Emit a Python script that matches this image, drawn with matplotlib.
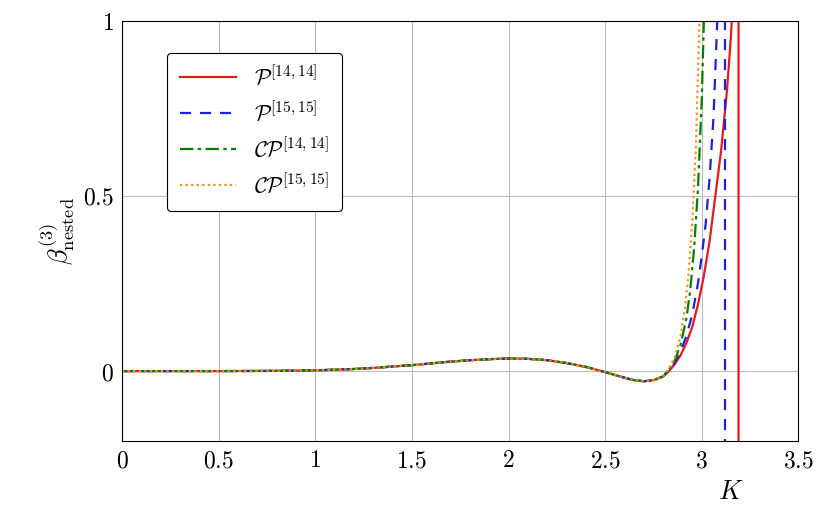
import numpy as np
import matplotlib.pyplot as plt

plt.rcParams['mathtext.fontset'] = 'cm'
plt.rcParams['font.family'] = 'serif'
plt.rcParams['font.serif'] = ['DejaVu Serif']

# shared low-K part of all approximants
k_base = [0, 0.25, 0.5, 0.75, 1.0, 1.1, 1.2, 1.3, 1.4, 1.5, 1.6, 1.7, 1.8, 1.9, 2.0,
          2.1, 2.2, 2.3, 2.4, 2.5, 2.55, 2.6, 2.65, 2.7, 2.75, 2.8]
b_base = [0, 0, 0, 0.0005, 0.002, 0.004, 0.006, 0.009, 0.013, 0.017, 0.022, 0.027,
          0.031, 0.034, 0.036, 0.035, 0.031, 0.023, 0.012, -0.003, -0.011, -0.019,
          -0.026, -0.029, -0.026, -0.015]

# tails (pole shown as jump from +big to -big)
k_p14 = [2.83, 2.86, 2.89, 2.92, 2.95, 2.98, 3.01, 3.04, 3.07, 3.1, 3.13, 3.15, 3.17,
         3.189, 3.191, 3.25]
b_p14 = [0.0, 0.02, 0.045, 0.08, 0.125, 0.19, 0.27, 0.37, 0.5, 0.63, 0.8, 0.95, 1.15,
         10, -10, -10]
k_p15 = [2.83, 2.86, 2.89, 2.92, 2.95, 2.98, 3.0, 3.02, 3.04, 3.06, 3.08, 3.119, 3.121, 3.2]
b_p15 = [0.002, 0.024, 0.055, 0.1, 0.16, 0.25, 0.33, 0.42, 0.55, 0.72, 1.0, 10, -10, -10]
k_cp14 = [2.83, 2.86, 2.89, 2.92, 2.94, 2.96, 2.98, 3.0, 3.02]
b_cp14 = [0.005, 0.03, 0.075, 0.15, 0.23, 0.35, 0.52, 0.78, 1.2]
k_cp15 = [2.83, 2.86, 2.89, 2.91, 2.93, 2.95, 2.97, 2.99]
b_cp15 = [0.008, 0.04, 0.1, 0.17, 0.27, 0.42, 0.65, 1.05]

fig, ax = plt.subplots(figsize=(8.3, 5.19), dpi=100)
fig.subplots_adjust(left=0.147, right=0.962, top=0.96, bottom=0.15)

ax.plot(k_base + k_p14, b_base + b_p14, color='#e41a1c', lw=1.6, label=r'$\mathcal{P}^{[14,14]}$')
ax.plot(k_base + k_p15, b_base + b_p15, color='#1f1fe0', lw=1.6, ls=(0, (5, 4)), label=r'$\mathcal{P}^{[15,15]}$')
ax.plot(k_base + k_cp14, b_base + b_cp14, color='#008000', lw=1.6, ls=(0, (6, 2, 1.5, 2)), label=r'$\mathcal{CP}^{[14,14]}$')
ax.plot(k_base + k_cp15, b_base + b_cp15, color='#ff8c1a', lw=1.6, ls=(0, (1, 1.5)), label=r'$\mathcal{CP}^{[15,15]}$')

xt = [0, 0.5, 1, 1.5, 2, 2.5, 3, 3.5]
yt = [0, 0.5, 1]
ax.set_xlim(0, 3.5)
ax.set_ylim(-0.2, 1)
ax.set_xticks(xt)
ax.set_xticklabels(['$%g$' % v for v in xt])
ax.set_yticks(yt)
ax.set_yticklabels(['$%g$' % v for v in yt])
ax.tick_params(labelsize=17, direction='in', length=0, pad=6)
ax.grid(True, color='#bbbbbb', lw=0.8)
ax.set_axisbelow(True)

ax.set_ylabel(r'$\beta^{(3)}_{\mathrm{nested}}$', fontsize=19)
ax.set_xlabel(r'$K$', fontsize=19)
ax.xaxis.set_label_coords(0.9, -0.09)

leg = ax.legend(loc='upper left', bbox_to_anchor=(0.05, 0.95), fontsize=16,
                frameon=True, fancybox=True, edgecolor='black', handlelength=2.5,
                borderpad=0.6, labelspacing=0.55, framealpha=1)
leg.get_frame().set_linewidth(0.8)

fig.savefig('out.png', dpi=100)
